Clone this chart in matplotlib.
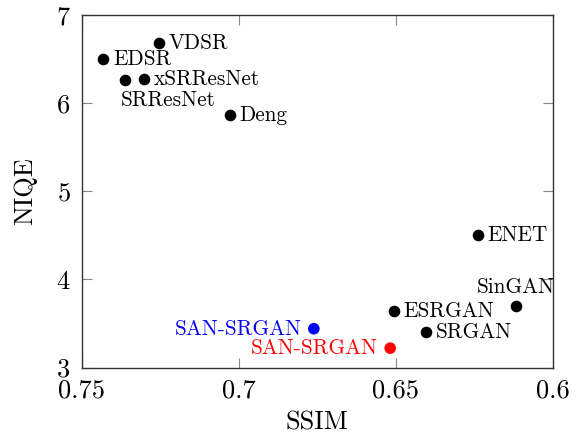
import matplotlib
matplotlib.use("Agg")
import matplotlib.pyplot as plt

plt.rcParams["font.family"] = ["cmr10", "DejaVu Serif"]
plt.rcParams["mathtext.fontset"] = "cm"
plt.rcParams["axes.formatter.use_mathtext"] = True

# SSIM vs NIQE for each method (lower NIQE is better)
methods = ["VDSR", "EDSR", "SRResNet", "xSRResNet", "Deng",
           "ENET", "SinGAN", "ESRGAN", "SRGAN"]
ssim = [0.7253, 0.7431, 0.7362, 0.7302, 0.7029,
        0.6239, 0.6117, 0.6507, 0.6403]
niqe = [6.676, 6.494, 6.256, 6.274, 5.863,
        4.502, 3.70, 3.637, 3.40]

# ours, two variants
ours_names = ["SAN-SRGAN", "SAN-SRGAN"]
ours_ssim = [0.6761, 0.6518]
ours_niqe = [3.44, 3.22]
ours_colors = ["#0000ff", "#ff0000"]

x_ticks = [0.75, 0.7, 0.65, 0.6]
x_tick_labels = ["0.75", "0.7", "0.65", "0.6"]
y_ticks = [3, 4, 5, 6, 7]

# label placement per method: (dx, dy) in points, ha, va
label_pos = {
    "SRResNet": ((-3, -14), "left", "center"),
    "SinGAN": ((0, 6), "center", "bottom"),
}
default_pos = ((7, 0), "left", "center")

fig = plt.figure(figsize=(5.79, 4.36), dpi=100)
ax = fig.add_axes([0.141, 0.157, 0.814, 0.809])

ax.scatter(ssim, niqe, s=70, color="black", zorder=3, linewidths=0)
for name, x, y in zip(methods, ssim, niqe):
    (dx, dy), ha, va = label_pos.get(name, default_pos)
    ax.annotate(name, (x, y), xytext=(dx, dy), textcoords="offset points",
                ha=ha, va=va, fontsize=15.3)

ax.scatter(ours_ssim, ours_niqe, s=70, color=ours_colors, zorder=3, linewidths=0)
for name, x, y, c in zip(ours_names, ours_ssim, ours_niqe, ours_colors):
    ax.annotate(name, (x, y), xytext=(-9, 0), textcoords="offset points",
                ha="right", va="center", fontsize=15.3, color=c)

ax.set_xlim(0.75, 0.6)
ax.set_ylim(3, 7)
ax.set_xticks(x_ticks)
ax.set_xticklabels(x_tick_labels)
ax.set_yticks(y_ticks)
ax.tick_params(direction="in", length=7, width=0.8, color="#888888",
               top=True, right=True, labelsize=19, pad=8)
for s in ax.spines.values():
    s.set_linewidth(1.0)
    s.set_color("#333333")

ax.set_xlabel("SSIM", fontsize=19, labelpad=6)
ax.set_ylabel("NIQE", fontsize=19, labelpad=13)

fig.savefig("out.png", dpi=100)
